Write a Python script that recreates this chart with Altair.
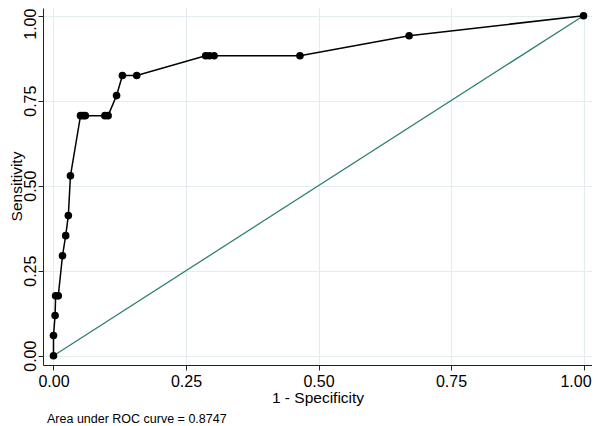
import altair as alt
import pandas as pd

# ROC curve points (1 - specificity, sensitivity)
fpr = [0.000, 0.000, 0.003, 0.004, 0.009, 0.017, 0.023, 0.028, 0.032,
       0.051, 0.056, 0.060, 0.097, 0.103, 0.119, 0.130, 0.157,
       0.287, 0.294, 0.303, 0.465, 0.671, 1.000]
sens = [0.000, 0.059, 0.118, 0.176, 0.176, 0.294, 0.353, 0.412, 0.529,
        0.706, 0.706, 0.706, 0.706, 0.706, 0.765, 0.824, 0.824,
        0.882, 0.882, 0.882, 0.882, 0.941, 1.000]
ref_x = [0.0, 1.0]
ref_y = [0.0, 1.0]
tick_values = [0.0, 0.25, 0.5, 0.75, 1.0]
auc_text = "Area under ROC curve = 0.8747"

roc = pd.DataFrame({"fpr": fpr, "sens": sens, "order": list(range(len(fpr)))})
ref = pd.DataFrame({"fpr": ref_x, "sens": ref_y})

FONT = "Liberation Sans"

xscale = alt.Scale(domain=[-0.0198, 1.016], nice=False, zero=False)
yscale = alt.Scale(domain=[-0.0274, 1.0226], nice=False, zero=False)

xaxis = alt.Axis(values=tick_values, format=".2f", title="1 - Specificity",
                 grid=True, tickSize=5, labelPadding=3, titlePadding=1,
                 labelOffset={"condition": {"test": "datum.value == 1", "value": -8},
                              "value": 0})
yaxis = alt.Axis(values=tick_values, format=".2f", title="Sensitivity",
                 grid=True, tickSize=5, labelAngle=270, labelAlign="center",
                 labelBaseline="alphabetic", labelPadding=3,
                 labelOffset={"condition": {"test": "datum.value == 1", "value": 8},
                              "value": 0},
                 titleAngle=270, titleBaseline="alphabetic", titleAlign="center",
                 titleX=-22, titleY=178)

diag = alt.Chart(ref).mark_line(color="#2f7f72", strokeWidth=1.3).encode(
    x=alt.X("fpr:Q", scale=xscale, axis=xaxis),
    y=alt.Y("sens:Q", scale=yscale, axis=yaxis),
)

line = alt.Chart(roc).mark_line(color="black", strokeWidth=1.5).encode(
    x=alt.X("fpr:Q", scale=xscale),
    y=alt.Y("sens:Q", scale=yscale),
    order="order:Q",
)

pts = alt.Chart(roc).mark_circle(color="black", opacity=1, size=58).encode(
    x=alt.X("fpr:Q", scale=xscale),
    y=alt.Y("sens:Q", scale=yscale),
)

chart = (diag + line + pts).properties(
    width=549,
    height=357,
    autosize="none",
    padding={"left": 35, "top": 0, "right": 0, "bottom": 61},
    title=alt.TitleParams(auc_text, orient="bottom", anchor="start", frame="group",
                          fontSize=12.5, fontWeight="normal", font=FONT,
                          color="black", offset=7, dx=4),
).configure_view(stroke=None).configure_axis(
    domainColor="#222222",
    tickColor="#222222",
    gridColor="#e3edf0",
    gridWidth=1.2,
    labelFont=FONT,
    labelFontSize=16,
    labelColor="black",
    titleFont=FONT,
    titleFontSize=15.5,
    titleFontWeight="normal",
    titleColor="black",
)

chart.save("out.html", embed_options={"renderer": "svg", "actions": False})
